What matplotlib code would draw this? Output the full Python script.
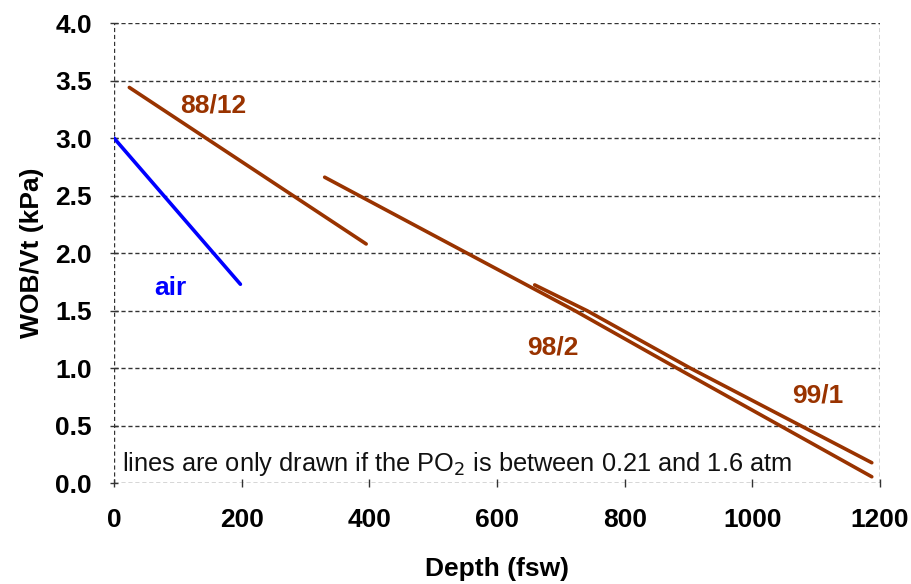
import matplotlib
matplotlib.use("Agg")
import matplotlib.pyplot as plt

plt.rcParams['font.family'] = ['Liberation Sans', 'DejaVu Sans']

# Data (depth fsw, WOB/Vt kPa)
air_x = [0, 198]
air_y = [3.00, 1.73]
mix8812_x = [24, 395]
mix8812_y = [3.44, 2.08]
mix982_x = [330, 722, 882, 1187]
mix982_y = [2.66, 1.50, 1.00, 0.057]
mix991_x = [659, 741, 903, 1187]
mix991_y = [1.724, 1.50, 1.00, 0.179]

xticks = [0, 200, 400, 600, 800, 1000, 1200]
yticks = [0.0, 0.5, 1.0, 1.5, 2.0, 2.5, 3.0, 3.5, 4.0]

brown = '#993300'
blue = '#0000FF'

fig = plt.figure(figsize=(9.12, 5.84), dpi=100)
ax = fig.add_axes([0.125, 0.1724, 0.84, 0.7882])

ax.set_xlim(0, 1200)
ax.set_ylim(0, 4.0)

for yv in yticks:
    ax.axhline(yv, color='#333333', lw=1.0, ls=(0, (3, 2)), zorder=1)
for xv in (0, 1200):
    ax.axvline(xv, color='#333333', lw=1.0, ls=(0, (3, 2)), zorder=1)
for s in ax.spines.values():
    s.set_visible(False)

lw = 2.6
ax.plot(air_x, air_y, color=blue, lw=lw, solid_capstyle='round', zorder=3)
ax.plot(mix8812_x, mix8812_y, color=brown, lw=lw, solid_capstyle='round', zorder=3)
ax.plot(mix982_x, mix982_y, color=brown, lw=lw, solid_capstyle='round', zorder=3)
ax.plot(mix991_x, mix991_y, color=brown, lw=lw, solid_capstyle='round', zorder=3)

lab_fs = 19
ax.text(155, 3.28, '88/12', color=brown, fontsize=lab_fs, fontweight='bold', ha='center', va='center')
ax.text(88, 1.70, 'air', color=blue, fontsize=lab_fs, fontweight='bold', ha='center', va='center')
ax.text(688, 1.18, '98/2', color=brown, fontsize=lab_fs, fontweight='bold', ha='center', va='center')
ax.text(1103, 0.76, '99/1', color=brown, fontsize=lab_fs, fontweight='bold', ha='center', va='center')

ax.text(12, 0.165, 'lines are only drawn if the PO$_2$ is between 0.21 and 1.6 atm',
        color='#111111', fontsize=18.3, ha='left', va='center')

ax.set_xticks(xticks)
ax.set_yticks(yticks)
ax.set_xticklabels([str(v) for v in xticks])
ax.set_yticklabels([f'{v:.1f}' for v in yticks])
ax.tick_params(axis='both', labelsize=19, direction='inout', length=6, width=1, color='#333333')
ax.tick_params(axis='x', pad=15)
ax.tick_params(axis='y', pad=13)
for lab in ax.get_xticklabels() + ax.get_yticklabels():
    lab.set_fontweight('bold')

ax.set_xlabel('Depth (fsw)', fontsize=19, fontweight='bold', labelpad=18)
ax.set_ylabel('WOB/Vt (kPa)', fontsize=19, fontweight='bold', labelpad=8)

fig.savefig('out.png', dpi=100)
